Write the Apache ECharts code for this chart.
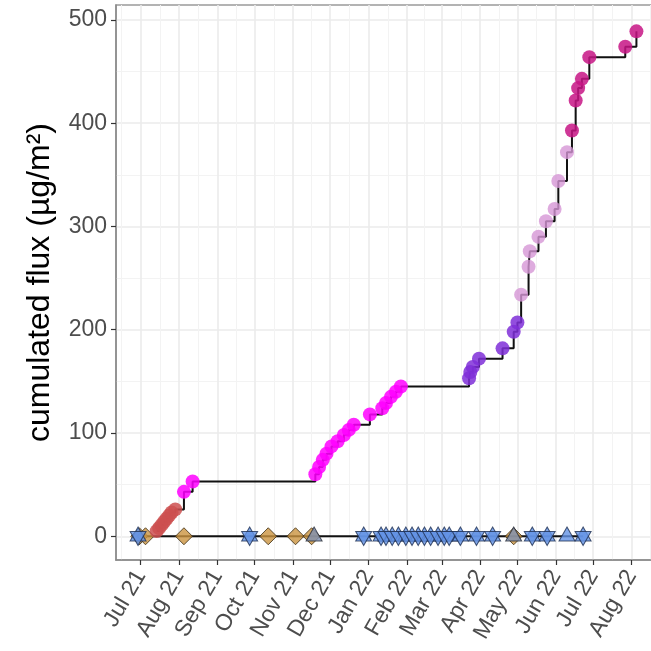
<!DOCTYPE html>
<html><head><meta charset="utf-8">
<script src="https://cdn.jsdelivr.net/npm/echarts@6/dist/echarts.min.js"></script>
<style>html,body{margin:0;padding:0;background:#fff}#c{width:651px;height:651px}</style>
</head><body><div id="c"></div>
<script>
// ---------- data ----------
const redDates = ['2021-07-14','2021-07-16','2021-07-18','2021-07-20','2021-07-22','2021-07-24','2021-07-26','2021-07-29'];
const redValues = [5, 8, 11, 14, 17, 20, 23, 26];
const magentaDates = ['2021-08-05','2021-08-12','2021-11-19','2021-11-22','2021-11-25','2021-11-28','2021-12-02','2021-12-07','2021-12-12','2021-12-16','2021-12-20','2022-01-02','2022-01-12','2022-01-15','2022-01-19','2022-01-23','2022-01-27'];
const magentaValues = [43, 53, 60, 67, 74, 80, 87, 92, 98, 103, 108, 118, 124, 129, 135, 140, 145];
const purpleDates = ['2022-03-23','2022-03-24','2022-03-26','2022-03-31','2022-04-19','2022-04-28','2022-05-01'];
const purpleValues = [153, 159, 164, 172, 182, 198, 207];
const plumDates = ['2022-05-04','2022-05-10','2022-05-11','2022-05-18','2022-05-24','2022-05-31','2022-06-03','2022-06-10'];
const plumValues = [234, 261, 276, 290, 305, 317, 344, 372];
const pinkDates = ['2022-06-14','2022-06-17','2022-06-19','2022-06-22','2022-06-28','2022-07-27','2022-08-05'];
const pinkValues = [393, 422, 434, 443, 464, 474, 489];

// samples with zero flux (bottom line)
const diamondDates = ['2021-06-30','2021-07-05','2021-08-05','2021-10-12','2021-11-03','2021-11-16','2022-04-28'];
const triDownDates = ['2021-06-29','2021-09-27','2021-12-28','2022-01-11','2022-01-15','2022-01-20','2022-01-25','2022-01-31','2022-02-05','2022-02-10','2022-02-15','2022-02-20','2022-02-26','2022-03-03','2022-03-07','2022-03-16','2022-03-29','2022-04-11','2022-05-13','2022-05-25','2022-06-23'];
const triUpDates = ['2021-06-29','2021-09-27','2021-12-28','2022-01-11','2022-01-15','2022-01-20','2022-01-25','2022-01-31','2022-02-05','2022-02-10','2022-02-15','2022-02-20','2022-02-26','2022-03-03','2022-03-07','2022-03-16','2022-03-29','2022-04-11','2022-05-13','2022-05-25','2022-06-10','2022-06-23'];
const greyTriDates = ['2021-11-18','2022-04-28'];

// axis ticks
const xTickDates = ['2021-07-01','2021-08-01','2021-09-01','2021-10-01','2021-11-01','2021-12-01','2022-01-01','2022-02-01','2022-03-01','2022-04-01','2022-05-01','2022-06-01','2022-07-01','2022-08-01'];
const xTickLabels = ['Jul 21','Aug 21','Sep 21','Oct 21','Nov 21','Dec 21','Jan 22','Feb 22','Mar 22','Apr 22','May 22','Jun 22','Jul 22','Aug 22'];
const yTicks = [0, 100, 200, 300, 400, 500];
const yMinorTicks = [50, 150, 250, 350, 450];
const yTitle = 'cumulated flux (µg/m²)';

// ---------- helpers ----------
const DAY = 86400000;
function t(s){ const p = s.split('-').map(Number); return Date.UTC(p[0], p[1]-1, p[2]); }
function pts(dates, vals){ return dates.map((d,i)=>[t(d), vals[i]]); }
function zeros(dates){ return dates.map(d=>[t(d), 0]); }

const xTickVals = xTickDates.map(t);
const xMinorVals = [];
xMinorVals.push(xTickVals[0] - (xTickVals[1]-xTickVals[0])/2);
for (let i=0;i<xTickVals.length-1;i++) xMinorVals.push((xTickVals[i]+xTickVals[i+1])/2);
xMinorVals.push(xTickVals[xTickVals.length-1] + (xTickVals[1]-xTickVals[0])/2);

const xMin = xTickVals[0] - 19.8*DAY;
const xMax = xTickVals[0] + 416.6*DAY;
const yMin = -23, yMax = 514.5;

const mainLine = [].concat(pts(redDates,redValues), pts(magentaDates,magentaValues), pts(purpleDates,purpleValues), pts(plumDates,plumValues), pts(pinkDates,pinkValues));
const allZero = Array.from(new Set([].concat(diamondDates, triDownDates, triUpDates, greyTriDates).map(t))).sort((a,b)=>a-b).map(v=>[v,0]);

const FONT = 'Liberation Sans, Arial, Helvetica, sans-serif';
const chart = echarts.init(document.getElementById('c'), null, {renderer:'canvas'});

function pointSeries(data, color, op){
  return {type:'scatter', data, symbol:'circle', symbolSize:14, z:5,
    itemStyle:{color, opacity:op, borderWidth:0}, silent:true};
}
const TRI = [16, 14];

chart.setOption({
  animation:false,
  backgroundColor:'#ffffff',
  grid:{left:116, top:5, right:-6, bottom:91, show:true, borderColor:'#9a9a9a', borderWidth:1.5, containLabel:false, outerBoundsMode:'none'},
  xAxis:[{
    type:'value', min:xMin, max:xMax,
    axisLine:{show:true, onZero:false, lineStyle:{color:'#8a8a8a', width:1.5}},
    axisTick:{show:true, length:5, lineStyle:{color:'#333', width:1.2}, customValues:xTickVals},
    axisLabel:{show:true, rotate:60, margin:12, align:'right', verticalAlign:'middle', padding:[20,0,0,0], color:'#4D4D4D', fontSize:23, fontFamily:FONT, customValues:xTickVals,
      formatter:(v)=>{ const i = xTickVals.indexOf(v); return i>=0 ? xTickLabels[i] : ''; }},
    splitLine:{show:true, lineStyle:{color:'#EBEBEB', width:1.6}}
  },{
    type:'value', min:xMin, max:xMax, position:'bottom',
    axisLine:{show:false}, axisTick:{show:false, customValues:xMinorVals},
    axisLabel:{show:false, customValues:xMinorVals},
    splitLine:{show:true, lineStyle:{color:'#F3F3F3', width:1}}
  }],
  yAxis:[{
    type:'value', min:yMin, max:yMax,
    name:yTitle, nameLocation:'middle', nameGap:60, nameRotate:90,
    nameTextStyle:{color:'#000', fontSize:32, fontFamily:FONT},
    axisLine:{show:true, onZero:false, lineStyle:{color:'#8a8a8a', width:1.5}},
    axisTick:{show:true, length:5, lineStyle:{color:'#333', width:1.2}, customValues:yTicks},
    axisLabel:{show:true, margin:9, color:'#4D4D4D', fontSize:23, fontFamily:FONT, customValues:yTicks},
    splitLine:{show:true, lineStyle:{color:'#EBEBEB', width:1.6}}
  },{
    type:'value', min:yMin, max:yMax, position:'left',
    axisLine:{show:false}, axisTick:{show:false, customValues:yMinorTicks},
    axisLabel:{show:false, customValues:yMinorTicks},
    splitLine:{show:true, lineStyle:{color:'#F3F3F3', width:1}}
  }],
  series:[
    {type:'line', data:allZero, step:'end', symbol:'none', z:2, lineStyle:{color:'#111', width:2}, silent:true},
    {type:'line', data:mainLine, step:'end', symbol:'none', z:2, lineStyle:{color:'#111', width:2}, silent:true},
    pointSeries(pts(redDates,redValues), '#CD5050', 0.85),
    pointSeries(pts(magentaDates,magentaValues), '#FF00FF', 0.85),
    pointSeries(pts(purpleDates,purpleValues), '#7F2FD8', 0.85),
    pointSeries(pts(plumDates,plumValues), '#D696D6', 0.8),
    pointSeries(pts(pinkDates,pinkValues), '#C71585', 0.85),
    {type:'scatter', data:zeros(diamondDates), symbol:'diamond', symbolSize:[17,17], z:4,
      itemStyle:{color:'#CB9440', borderColor:'#3A2A12', borderWidth:1}, silent:true},
    {type:'scatter', data:zeros(triUpDates), symbol:'triangle', symbolSize:TRI, symbolOffset:[0,-2.3], z:4,
      itemStyle:{color:'#6494E6', borderColor:'#1E2F52', borderWidth:1}, silent:true},
    {type:'scatter', data:zeros(triDownDates), symbol:'triangle', symbolRotate:180, symbolSize:TRI, symbolOffset:[0,2.3], z:4,
      itemStyle:{color:'#6494E6', borderColor:'#1E2F52', borderWidth:1}, silent:true},
    {type:'scatter', data:zeros(greyTriDates), symbol:'triangle', symbolSize:TRI, symbolOffset:[0,-2.3], z:4,
      itemStyle:{color:'#7E90B2', borderColor:'#2A2F3A', borderWidth:1}, silent:true}
  ]
});
</script></body></html>
